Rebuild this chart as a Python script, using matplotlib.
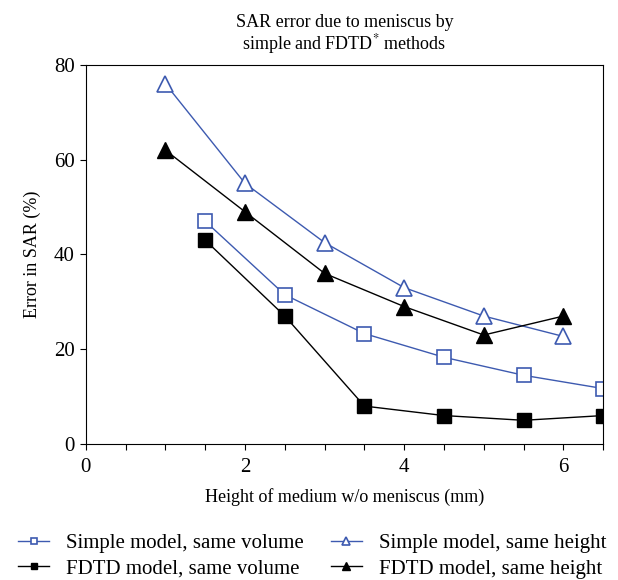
import matplotlib
matplotlib.use('Agg')
import matplotlib.pyplot as plt
import numpy as np

plt.rcParams['font.family'] = ['Liberation Serif', 'DejaVu Serif']
plt.rcParams['mathtext.fontset'] = 'stix'

# data
x_vol = [1.5, 2.5, 3.5, 4.5, 5.5, 6.5]
x_hgt = [1, 2, 3, 4, 5, 6]
simple_vol = [47, 31.5, 23.3, 18.3, 14.5, 11.7]
fdtd_vol = [43, 27, 8, 6, 5, 6]
simple_hgt = [76, 55, 42.5, 33, 27, 22.7]
fdtd_hgt = [62, 49, 36, 29, 23, 27]

blue = '#3d5ab0'

fig = plt.figure(figsize=(6.18, 5.80), dpi=100)
ax = fig.add_axes([0.139, 0.2345, 0.837, 0.6535])

ax.plot(x_vol, simple_vol, color=blue, lw=1, marker='s', ms=10,
        mfc='white', mec=blue, mew=1.2, label='Simple model, same volume')
ax.plot(x_hgt, simple_hgt, color=blue, lw=1, marker='^', ms=11,
        mfc='white', mec=blue, mew=1.2, label='Simple model, same height')
ax.plot(x_vol, fdtd_vol, color='black', lw=1, marker='s', ms=10,
        mfc='black', mec='black', label='FDTD model, same volume')
ax.plot(x_hgt, fdtd_hgt, color='black', lw=1, marker='^', ms=11,
        mfc='black', mec='black', label='FDTD model, same height')

ax.set_xlim(0, 6.5)
ax.set_ylim(0, 80)
ticks = np.arange(0, 6.51, 0.5)
ax.set_xticks(ticks)
ax.set_xticklabels([str(int(v)) if v % 2 == 0 else '' for v in ticks])
ax.set_yticks([0, 20, 40, 60, 80])
ax.tick_params(axis='both', direction='out', length=4, labelsize=15, pad=4)
ax.tick_params(axis='x', pad=6)

ax.set_xlabel('Height of medium w/o meniscus (mm)', fontsize=13, labelpad=8)
ax.set_ylabel('Error in SAR (%)', fontsize=13, labelpad=9)
ax.set_title('SAR error due to meniscus by\nsimple and FDTD$^{*}$ methods',
             fontsize=13, pad=11, linespacing=1.1)

h, l = ax.get_legend_handles_labels()
order = [0, 2, 1, 3]
fig.legend([h[i] for i in order], [l[i] for i in order], ncol=2,
           loc='lower center', bbox_to_anchor=(0.505, -0.03), frameon=False,
           fontsize=15, markerscale=0.5, handlelength=1.5,
           columnspacing=1.3, labelspacing=0.3, handletextpad=0.8)

fig.savefig('out.png', dpi=100)
